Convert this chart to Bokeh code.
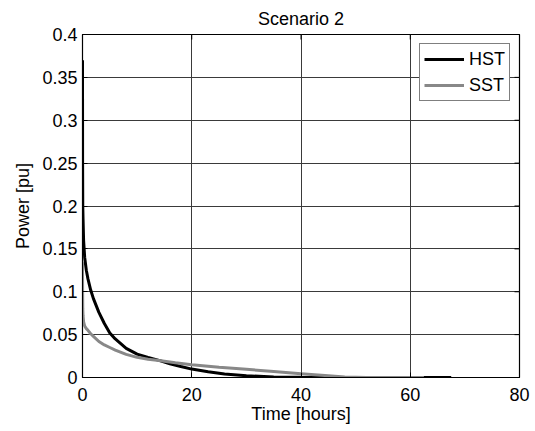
from bokeh.plotting import figure
from bokeh.models import FixedTicker, Range1d, Legend, LegendItem
from bokeh.embed import file_html
from bokeh.resources import INLINE

# Power decay curves for the two transformer types
hst_time = [0, 0.02, 0.05, 0.1, 0.2, 0.4, 0.7, 1.0, 1.5, 2, 3, 4, 5, 6, 8, 10,
            12, 14, 16, 18, 20, 23, 26, 30, 35, 40, 50, 60, 67.5]
hst_power = [0.37, 0.25, 0.2, 0.185, 0.16, 0.14, 0.125, 0.115, 0.102, 0.092,
             0.076, 0.063, 0.052, 0.045, 0.034, 0.0272, 0.0235, 0.0200, 0.016,
             0.0128, 0.0098, 0.0068, 0.0042, 0.002, 0.0007, 0.0002, 0.0, 0.0, 0.0]

sst_time = [0, 0.02, 0.05, 0.1, 0.2, 0.4, 0.7, 1.0, 1.5, 2, 3, 4, 5, 6, 8, 10,
            12, 14, 17, 20, 25, 30, 35, 40, 45, 48, 52, 62.5]
sst_power = [0.135, 0.1, 0.08, 0.072, 0.065, 0.06, 0.057, 0.055, 0.051, 0.048,
             0.042, 0.038, 0.035, 0.032, 0.027, 0.0235, 0.0212, 0.0198, 0.0172,
             0.015, 0.012, 0.0095, 0.007, 0.0045, 0.002, 0.0005, 0.0, 0.0]

x_ticks = [0, 20, 40, 60, 80]
y_ticks = [0, 0.05, 0.1, 0.15, 0.2, 0.25, 0.3, 0.35, 0.4]
y_labels = ["0", "0.05", "0.1", "0.15", "0.2", "0.25", "0.3", "0.35", "0.4"]

FONT = "Liberation Sans"
FS = "18px"

p = figure(width=535, height=431, output_backend="svg", toolbar_location=None,
           x_range=Range1d(0, 80), y_range=Range1d(0, 0.4),
           min_border_left=82, min_border_right=16, min_border_top=34,
           min_border_bottom=54, title="Scenario 2")
p.background_fill_color = "white"
p.border_fill_color = "white"
p.outline_line_color = "black"
p.outline_line_width = 1.2

p.title.align = "center"
p.title.text_font = FONT
p.title.text_font_size = FS
p.title.text_font_style = "normal"
p.title.text_color = "black"
p.title.offset = 0
p.title.standoff = 11

for ax in (p.xaxis[0], p.yaxis[0]):
    ax.axis_line_color = "black"
    ax.major_tick_line_color = "black"
    ax.major_tick_in = 5
    ax.major_tick_out = 0
    ax.minor_tick_line_color = None
    ax.major_label_text_font = FONT
    ax.major_label_text_font_size = FS
    ax.major_label_text_color = "black"
    ax.axis_label_text_font = FONT
    ax.axis_label_text_font_size = FS
    ax.axis_label_text_font_style = "normal"
    ax.axis_label_text_color = "black"

p.xaxis.ticker = FixedTicker(ticks=x_ticks)
p.yaxis.ticker = FixedTicker(ticks=y_ticks)
p.yaxis.major_label_overrides = {t: s for t, s in zip(y_ticks, y_labels)}
p.xaxis.axis_label = "Time [hours]"
p.yaxis.axis_label = "Power [pu]"
p.xaxis.major_label_standoff = 10
p.xaxis.axis_label_standoff = 0
p.yaxis.major_label_standoff = 5
p.yaxis.axis_label_standoff = 6

p.xgrid.grid_line_color = "#3a3a3a"
p.ygrid.grid_line_color = "#3a3a3a"
p.xgrid.grid_line_width = 1
p.ygrid.grid_line_width = 1

# inward tick marks mirrored on the top and right edges (clipped to the frame)
p.scatter(x_ticks, [0.4] * len(x_ticks), marker="dash", size=10, angle=1.5708,
          line_color="black", line_width=1)
p.scatter([80] * len(y_ticks), y_ticks, marker="dash", size=10,
          line_color="black", line_width=1)

r_hst = p.line(hst_time, hst_power, line_color="black", line_width=3)
r_sst = p.line(sst_time, sst_power, line_color="#888888", line_width=3)

legend = Legend(items=[LegendItem(label="HST", renderers=[r_hst]),
                       LegendItem(label="SST", renderers=[r_sst])],
                location="top_right")
legend.label_text_font = FONT
legend.label_text_font_size = FS
legend.label_text_color = "black"
legend.border_line_color = "black"
legend.border_line_width = 1
legend.background_fill_color = "white"
legend.background_fill_alpha = 1
legend.glyph_width = 40
legend.glyph_height = 22
legend.label_height = 22
legend.spacing = 4
legend.padding = 4
legend.margin = 9
legend.label_standoff = 5
p.add_layout(legend, "center")

open("out.html", "w").write(file_html(p, INLINE))
